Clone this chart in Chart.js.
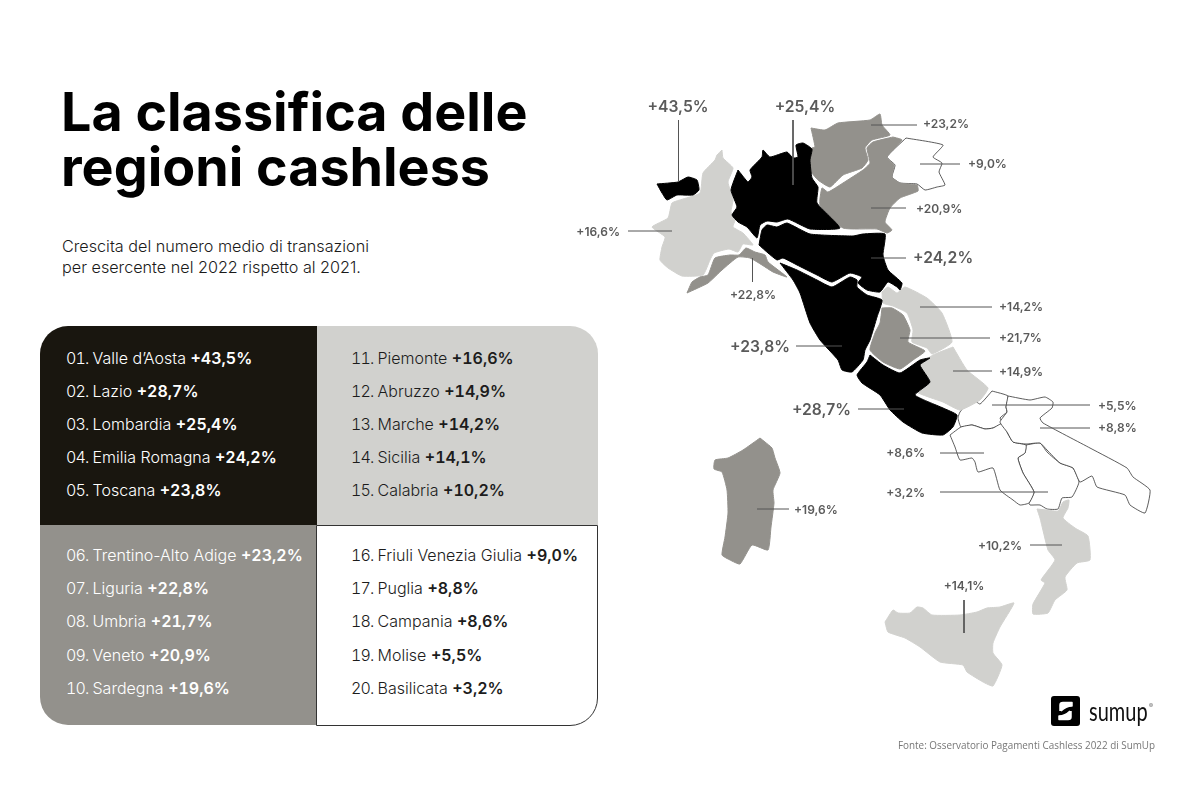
<!DOCTYPE html>
<html lang="it">
<head>
<meta charset="utf-8">
<title>La classifica delle regioni cashless</title>
<script src="https://cdn.jsdelivr.net/npm/chart.js@4/dist/chart.umd.min.js"></script>
<style>
  html, body { margin: 0; padding: 0; background: #fff; }
  body { width: 1200px; height: 800px; position: relative; overflow: hidden; font-family: Inter, sans-serif; }
  #map { position: absolute; left: 0; top: 0; }
  h1 { position: absolute; left: 61px; top: 84px; margin: 0; font-size: 53.8px; line-height: 55px; font-weight: 700; color: #000; letter-spacing: 0; }
  #sub { position: absolute; left: 62px; top: 236px; font-size: 16.2px; line-height: 21px; font-weight: 300; color: #1a1a1a; }
  .cell { position: absolute; box-sizing: border-box; font-size: 16px; font-weight: 300; }
  .cell div { position: absolute; white-space: nowrap; }
  .cell b { font-weight: 600; font-feature-settings: "tnum"; }
  .cell span { display: inline-block; width: 26.500px; font-feature-settings: "tnum"; letter-spacing: -0.8px; }
  #c1 { left: 40px; top: 326px; width: 277px; height: 199px; background: #19160f; color: #fff; border-top-left-radius: 28px; }
  #c2 { left: 317px; top: 326px; width: 281px; height: 199px; background: #d1d1ce; color: #1c1c1c; border-top-right-radius: 28px; }
  #c3 { left: 40px; top: 525px; width: 277px; height: 200px; background: #93918c; color: #fff; border-bottom-left-radius: 28px; }
  #c4 { left: 316px; top: 525px; width: 282px; height: 201px; background: #fff; color: #1c1c1c; border: 1px solid #333; border-bottom-right-radius: 28px; }
  #logo { position: absolute; left: 1051px; top: 696px; width: 29px; height: 30px; background: #000; border-radius: 3px; }
  #brand { position: absolute; left: 1089px; top: 695px; font-family: Lato, sans-serif; font-size: 20px; line-height: 24px; color: #111; transform: scaleY(1.3); transform-origin: left top; }
  #reg { position: absolute; left: 1149px; top: 702px; font-size: 6px; color: #666; }
  #source { position: absolute; left: 898px; top: 738px; font-family: "Open Sans", sans-serif; font-size: 9.9px; line-height: 14px; color: #777; white-space: nowrap; }
</style>
</head>
<body>
<h1>La classifica delle<br>regioni cashless</h1>
<div id="sub">Crescita del numero medio di transazioni<br>per esercente nel 2022 rispetto al 2021.</div>
<div class="cell" id="c1"></div>
<div class="cell" id="c2"></div>
<div class="cell" id="c3"></div>
<div class="cell" id="c4"></div>
<canvas id="map" width="1200" height="800"></canvas>
<div id="logo"><svg width="29" height="30" viewBox="0 0 29 30"><path d="M9 15 L9 9 Q9 6.500 12 6.500 L21 6.500 L21 10 Q15 10 10 15 M20 15 L20 21 Q20 23.500 17 23.500 L8 23.500 L8 20 Q14 20 19 15" fill="#fff" stroke="#fff" stroke-width="1.500" stroke-linejoin="round"/></svg></div>
<div id="brand">sumup</div>
<div id="reg">®</div>
<div id="source">Fonte: Osservatorio Pagamenti Cashless 2022 di SumUp</div>

<script>
// ranking, in table order
const regionNames = ['Valle d’Aosta', 'Lazio', 'Lombardia', 'Emilia Romagna', 'Toscana',
  'Trentino-Alto Adige', 'Liguria', 'Umbria', 'Veneto', 'Sardegna',
  'Piemonte', 'Abruzzo', 'Marche', 'Sicilia', 'Calabria',
  'Friuli Venezia Giulia', 'Puglia', 'Campania', 'Molise', 'Basilicata'];
const regionValues = ['+43,5%', '+28,7%', '+25,4%', '+24,2%', '+23,8%',
  '+23,2%', '+22,8%', '+21,7%', '+20,9%', '+19,6%',
  '+16,6%', '+14,9%', '+14,2%', '+14,1%', '+10,2%',
  '+9,0%', '+8,8%', '+8,6%', '+5,5%', '+3,2%'];
const tierColors = ['#000000', '#93918c', '#d1d1ce', '#ffffff'];

// region outlines, same order as regionNames
const valleAosta = [[657,184],[678,182],[688,177],[697,180],[699,190],[693,195],[677,195],[667,200],[662,193]];
const lazio = [[870,355],[883,365],[900,373],[920,360],[930,358],[920,365],[930,382],[915,395],[943,408],[957,415],[953,427],[943,435],[922,433],[903,422],[890,410],[880,395],[862,383],[857,375],[867,362]];
const lombardia = [[738,170],[742,175],[748,182],[752,177],[750,170],[762,157],[763,150],[770,157],[787,152],[793,158],[798,157],[796,145],[803,143],[812,149],[810,160],[812,178],[818,187],[817,203],[840,228],[810,229],[788,219],[777,222],[767,221],[760,225],[757,238],[747,227],[738,222],[732,215],[737,207],[731,190]];
const emilia = [[759,245],[762,230],[767,225],[777,227],[787,223],[810,234],[853,236],[863,234],[885,234],[883,255],[888,270],[902,283],[900,290],[897,287],[888,282],[880,292],[867,290],[858,283],[862,277],[850,273],[832,282],[817,275],[797,265],[783,258],[777,260],[768,253]];
const toscana = [[780,263],[797,270],[817,280],[832,287],[850,277],[857,280],[857,287],[867,295],[882,300],[877,317],[870,340],[865,350],[863,360],[852,372],[842,370],[838,360],[820,340],[810,323],[800,293],[793,280]];
const trentino = [[811,128],[825,130],[838,123],[870,120],[880,114],[882,125],[890,135],[872,140],[865,148],[868,160],[862,168],[843,175],[830,187],[818,180],[810,170],[812,148],[815,147]];
const liguria = [[687,293],[692,282],[700,277],[708,275],[715,258],[730,255],[739,255],[746,248],[755,252],[765,255],[768,262],[787,277],[773,272],[762,265],[750,258],[738,257],[722,270],[708,283]];
const umbria = [[882,308],[892,308],[903,315],[910,330],[908,342],[925,351],[913,360],[900,369],[883,362],[870,350],[875,333],[880,323]];
const veneto = [[893,137],[902,140],[887,157],[894,165],[892,177],[900,183],[917,185],[918,191],[900,198],[890,208],[885,222],[892,230],[887,233],[877,229],[843,228],[820,205],[822,188],[828,192],[843,183],[863,170],[870,163],[867,148],[873,142]];
const sardegna = [[760,438],[765,442],[772,448],[775,458],[780,473],[773,490],[774,503],[771,527],[768,550],[752,545],[740,564],[730,560],[722,555],[725,537],[728,513],[727,490],[722,472],[714,469],[715,460],[728,458],[743,450]];
const piemonte = [[722,150],[723,158],[733,168],[728,182],[733,200],[731,212],[735,220],[733,227],[743,233],[753,245],[743,244],[738,252],[729,249],[714,253],[710,260],[703,275],[682,276],[668,268],[660,260],[662,247],[665,237],[652,227],[668,218],[672,203],[683,199],[700,193],[703,173],[715,160],[717,155]];
const abruzzo = [[953,347],[967,370],[988,388],[980,400],[960,410],[943,402],[917,392],[930,380],[920,365],[933,355]];
const marche = [[882,292],[888,287],[897,293],[905,287],[927,298],[942,313],[952,342],[932,354],[927,348],[912,342],[913,330],[907,313],[893,306],[883,303]];
const sicilia = [[885,622],[893,610],[898,613],[910,613],[917,607],[923,608],[932,615],[960,615],[977,612],[987,608],[1000,607],[1014,603],[1000,627],[993,643],[993,653],[1002,665],[993,686],[983,682],[967,672],[963,665],[940,662],[920,647],[905,638],[888,632]];
const calabria = [[1037,509],[1047,510],[1058,511],[1063,502],[1069,500],[1068,508],[1063,518],[1075,528],[1088,536],[1090,560],[1077,563],[1065,577],[1067,590],[1055,600],[1048,613],[1033,614],[1033,604],[1045,583],[1041,580],[1055,560],[1048,550],[1040,518]];
const friuli = [[906,138],[943,145],[933,157],[942,163],[939,172],[945,185],[937,187],[925,190],[917,184],[900,183],[892,177],[895,165],[887,157]];
const puglia = [[1008,396],[1030,400],[1045,397],[1053,402],[1052,408],[1040,418],[1043,423],[1090,448],[1127,468],[1133,477],[1150,490],[1145,513],[1130,505],[1125,495],[1097,487],[1092,476],[1080,482],[1073,468],[1060,463],[1047,450],[1040,443],[1026,444],[1013,442],[1007,432],[1000,422],[1007,412],[1006,407]];
const campania = [[950,435],[961,427],[972,425],[985,429],[993,428],[1003,423],[1007,432],[1013,442],[1026,445],[1025,453],[1018,458],[1023,473],[1034,492],[1029,503],[1020,505],[1013,500],[1000,490],[993,468],[978,472],[975,462],[972,458],[960,460],[955,447]];
const molise = [[992,391],[1008,396],[1006,407],[1007,412],[1000,418],[1003,423],[993,428],[985,429],[972,425],[961,427],[958,418],[960,412],[972,399],[980,404]];
const basilicata = [[1026,445],[1040,443],[1047,452],[1060,463],[1073,468],[1079,482],[1072,497],[1062,498],[1058,509],[1047,509],[1040,505],[1030,505],[1029,503],[1034,492],[1023,473],[1018,458],[1025,453]];

const outlines = [valleAosta, lazio, lombardia, emilia, toscana, trentino, liguria, umbria, veneto, sardegna,
  piemonte, abruzzo, marche, sicilia, calabria, friuli, puglia, campania, molise, basilicata];

// leader lines [x1, y1, x2, y2] and label anchors [x, y], same order
const leaders = [[678.5,120,678.5,182],[858,409,904,409],[793,120,793,185],[871,258,906,258],[796,346,842,346],
  [871,125,917,125],[752.500,258,752.500,282],[900,338,990,338],[871,208,906,208],[757,509,789,509],
  [628,231,672,231],[953,371,992,371],[920,307,992,307],[964,600,964,633],[1030,545,1062,545],
  [920,164,960,164],[1040,428,1090,428],[940,453,984,453],[992,405,1090,405],[940,492,1048,492]];
const anchors = [[678,107],[851,410],[805,107],[913,258],[790,347],
  [923,124.500],[753,295.500],[999,338.500],[916,209.500],[794,510.500],
  [620,232.500],[999,372.500],[999,307.500],[964,586.500],[1022,546.500],
  [968,164.500],[1098,428.500],[925,453.500],[1098,406.500],[925,493.500]];
const aligns = ['center','right','center','left','right','left','center','left','left','left',
  'right','left','left','center','right','left','left','right','left','right'];
const bigLabels = [0, 1, 2, 3, 4]; // top five get the larger type

// table
const rowTops = [22, 55, 88, 121, 154];
const lowerRowTops = [20, 53, 86, 120, 153];
['c1', 'c3', 'c2', 'c4'].forEach((id, col) => {
  const cell = document.getElementById(id);
  const tops = col % 2 ? lowerRowTops : rowTops;
  tops.forEach((top, r) => {
    const i = col * 5 + r;
    const row = document.createElement('div');
    row.style.left = (col < 2 ? 26 : 34) + 'px';
    row.style.top = top - (col === 3 ? 1 : 0) + 'px';
    row.innerHTML = '<span>' + String(i + 1).padStart(2, '0') + '.</span>' + regionNames[i] + ' <b>' + regionValues[i] + '</b>';
    cell.appendChild(row);
  });
});

const toPoints = (pairs) => pairs.concat([pairs[0]]).map(([x, y]) => ({ x, y }));

const regionSets = outlines.map((pairs, i) => {
  const tier = Math.floor(i / 5);
  const fill = tierColors[tier];
  return {
    label: regionNames[i],
    data: toPoints(pairs),
    showLine: true,
    fill: 'shape',
    backgroundColor: fill,
    borderColor: tier === 3 ? '#333' : fill,
    borderWidth: tier === 3 ? 0.8 : 1,
    pointRadius: 0,
    tension: 0.15,
    order: 2,
  };
});

const leaderSets = leaders.map((l, i) => ({
  label: regionNames[i] + ' leader',
  data: [{ x: l[0], y: l[1] }, { x: l[2], y: l[3] }],
  showLine: true,
  fill: false,
  borderColor: '#555',
  borderWidth: 1,
  pointRadius: 0,
  order: 1,
}));

const valueLabels = {
  id: 'valueLabels',
  afterDatasetsDraw(chart) {
    const { ctx, scales } = chart;
    ctx.save();
    ctx.fillStyle = '#5a5a5a';
    ctx.textBaseline = 'middle';
    regionValues.forEach((text, i) => {
      ctx.font = bigLabels.includes(i) ? '600 15.7px Inter' : '600 12px Inter';
      ctx.textAlign = aligns[i];
      ctx.fillText(text, scales.x.getPixelForValue(anchors[i][0]), scales.y.getPixelForValue(anchors[i][1]));
    });
    ctx.restore();
  },
};

new Chart(document.getElementById('map'), {
  type: 'scatter',
  data: { datasets: leaderSets.concat(regionSets) },
  plugins: [valueLabels],
  options: {
    responsive: false,
    animation: false,
    layout: { padding: 0 },
    plugins: { legend: { display: false }, tooltip: { enabled: false } },
    scales: {
      x: { type: 'linear', min: 0, max: 1200, display: false },
      y: { type: 'linear', min: 0, max: 800, reverse: true, display: false },
    },
  },
});
</script>
</body>
</html>
